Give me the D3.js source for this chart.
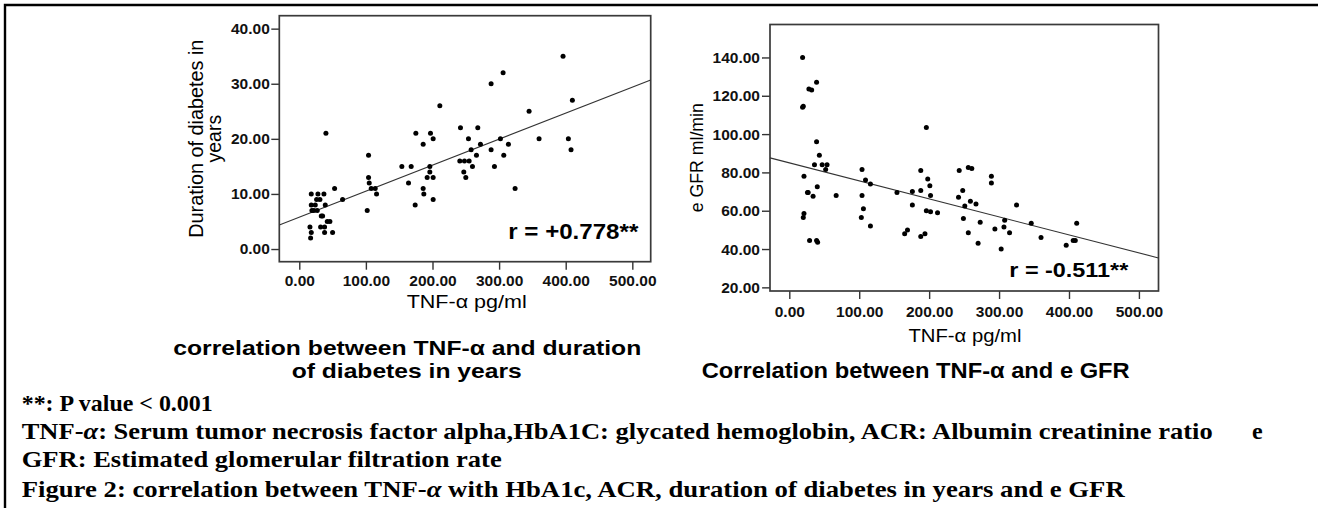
<!DOCTYPE html>
<html>
<head>
<meta charset="utf-8">
<script src="https://cdn.jsdelivr.net/npm/d3@7"></script>
<style>
  body { margin: 0; background: #fff; }
  svg { display: block; }
</style>
</head>
<body>
<div id="fig"></div>
<script>
// left plot: TNF-a (pg/ml) vs duration of diabetes (years)
const durTnf = [396, 306, 288, 410, 211, 345, 40, 175, 197, 201, 242, 268, 254, 302, 360, 404,
  408, 186, 272, 314, 258, 288, 266, 307, 104, 241, 248, 255, 154, 168, 196, 260, 293, 196, 247,
  192, 201, 250, 104, 105, 164, 108, 114, 186, 53, 324, 116, 187, 201, 65, 174, 102,
  18, 28, 37, 26, 31, 18, 24, 39, 19, 22, 27, 33, 35, 42, 46, 16, 32, 38, 18, 38, 50, 17];
const durYears = [35, 32, 30, 27, 26, 25, 21, 21, 21, 20, 22, 22, 20, 20, 20, 20,
  18, 19, 19, 19, 18, 18, 17, 17, 17, 16, 16, 16, 15, 15, 15, 15, 15, 14, 14,
  13, 13, 13, 13, 12, 12, 11, 11, 11, 11, 11, 10, 10, 9, 9, 8, 7,
  10, 10, 10, 9, 9, 8, 8, 8, 7, 7, 7, 6, 6, 5, 5, 4, 4, 4, 3, 3, 3, 2];
const durFit = [5.78, 0.0472];   // intercept, slope of the drawn fit line
const durR = "r = +0.778**";

// right plot: TNF-a (pg/ml) vs eGFR (ml/min)
const gfrTnf = [19, 19, 20, 28, 32, 39, 39, 43, 36, 47, 54, 52, 40, 21, 26, 27, 34, 67, 21, 20,
  29, 39, 40.5, 104, 109, 116, 104, 106, 103, 116, 154, 176, 188, 188, 176, 165, 169, 188, 194,
  196, 198, 201, 202, 196, 202, 212, 243, 256, 261, 248, 242, 251, 259, 267, 249, 256, 273, 270,
  289, 289, 294, 303, 308, 307, 315, 325, 346, 360, 396, 406, 409, 411];
const gfrValues = [140, 114, 114.5, 123.5, 123, 127, 96, 89, 84, 84, 84, 81.5, 72.5, 78, 69.5, 69.5, 67.5, 68, 58.5, 56.5,
  44.5, 44.5, 43.5, 81.5, 76, 74, 68, 61, 56.5, 52, 69.5, 70, 81, 70.5, 63, 48, 50, 46.5, 48,
  103.5, 76.5, 73, 68, 60, 59.5, 59, 81, 82.5, 82, 70.5, 67, 62.5, 65, 63.5, 56, 48.5, 54, 43,
  78, 74.5, 50.5, 40, 55, 51.5, 48.5, 63, 53.5, 46, 42, 44.5, 44.5, 53.5];
const gfrFit = [85.0, -0.094];
const gfrR = "r = -0.511**";

const xTickVals = [0, 100, 200, 300, 400, 500];
const durTickVals = [0, 10, 20, 30, 40];
const gfrTickVals = [20, 40, 60, 80, 100, 120, 140];

const notes = [
  "**: P value < 0.001",
  "TNF-α: Serum tumor necrosis factor alpha,HbA1C: glycated hemoglobin, ACR: Albumin creatinine ratio",
  "GFR: Estimated glomerular filtration rate",
  "Figure 2: correlation between TNF-α with HbA1c, ACR, duration of diabetes in years and e GFR"
];

var W = 1318, H = 508;
var sans = "'Liberation Sans', Arial, sans-serif";
var serif = "'Liberation Serif', 'Times New Roman', serif";
var fmt = d3.format(".2f");

var svg = d3.select("#fig").append("svg").attr("width", W).attr("height", H);

// page border (top + left)
svg.append("path").attr("d", "M5," + H + "V5H" + W)
  .attr("fill", "none").attr("stroke", "#000").attr("stroke-width", 2.4);

function txt(str, x, y, o) {
  var t = svg.append("text").attr("x", x).attr("y", y)
    .attr("font-family", o.family || sans)
    .attr("font-size", o.size)
    .attr("font-weight", o.bold ? "bold" : "normal")
    .attr("text-anchor", o.anchor || "start")
    .attr("fill", "#000")
    .text(str);
  if (o.len) t.attr("textLength", o.len).attr("lengthAdjust", "spacingAndGlyphs");
  if (o.rot) t.attr("transform", "rotate(-90," + x + "," + y + ")");
  return t;
}

function panel(o) {
  var x = d3.scaleLinear().domain(o.xDom).range([o.left, o.right]);
  var y = d3.scaleLinear().domain(o.yDom).range([o.bottom, o.top]);
  var g = svg.append("g");

  var xa = g.append("g").attr("transform", "translate(0," + o.bottom + ")")
    .call(d3.axisBottom(x).tickValues(xTickVals).tickFormat(fmt).tickSize(8).tickPadding(o.xPad).tickSizeOuter(0));
  var ya = g.append("g").attr("transform", "translate(" + o.left + ",0)")
    .call(d3.axisLeft(y).tickValues(o.yTicks).tickFormat(fmt).tickSize(8).tickPadding(o.yPad).tickSizeOuter(0));
  [xa, ya].forEach(function (a) {
    a.select(".domain").remove();
    a.selectAll("line").attr("stroke", "#333").attr("stroke-width", 1.4);
    a.selectAll("text").attr("font-family", sans).attr("font-size", 15.5)
      .attr("font-weight", "bold").attr("fill", "#111");
  });

  g.append("rect").attr("x", o.left).attr("y", o.top)
    .attr("width", o.right - o.left).attr("height", o.bottom - o.top)
    .attr("fill", "none").attr("stroke", "#3a3a3a").attr("stroke-width", 1.7);

  var x0 = o.xDom[0], x1 = o.xDom[1];
  g.append("line")
    .attr("x1", x(x0)).attr("y1", y(o.fit[0] + o.fit[1] * x0))
    .attr("x2", x(x1)).attr("y2", y(o.fit[0] + o.fit[1] * x1))
    .attr("stroke", "#333").attr("stroke-width", 1.1);

  g.selectAll("circle").data(o.xs).enter().append("circle")
    .attr("cx", function (d) { return x(d); })
    .attr("cy", function (d, i) { return y(o.ys[i]); })
    .attr("r", 2.5).attr("fill", "#000");
}

panel({ xs: durTnf, ys: durYears, fit: durFit, yTicks: durTickVals,
  xDom: [-30, 527.6], yDom: [-2.3, 42.35],
  left: 279.3, right: 650.7, top: 15.7, bottom: 261.7, xPad: 5, yPad: 1.5 });

panel({ xs: gfrTnf, ys: gfrValues, fit: gfrFit, yTicks: gfrTickVals,
  xDom: [-27.6, 528], yDom: [18.1, 157.2],
  left: 770, right: 1158.5, top: 24.5, bottom: 291, xPad: 6.5, yPad: 2 });

// left plot labels
txt("Duration of diabetes in", 203, 138.7, { size: 19.5, anchor: "middle", rot: true, len: 198 });
txt("years", 221, 138.7, { size: 19.5, anchor: "middle", rot: true });
txt("TNF-α  pg/ml", 466.7, 308, { size: 18.5, anchor: "middle", len: 120 });
txt(durR, 508.3, 239.3, { size: 22, bold: true, len: 130 });
txt("correlation between TNF-α and duration", 173.3, 354.5, { size: 21, bold: true, len: 468 });
txt("of diabetes in years", 406.7, 378, { size: 21, bold: true, anchor: "middle", len: 230 });

// right plot labels
txt("e GFR ml/min", 703.3, 157.7, { size: 17.5, anchor: "middle", rot: true, len: 109 });
txt("TNF-α pg/ml", 965, 342, { size: 18.5, anchor: "middle", len: 113 });
txt(gfrR, 1009.3, 276.7, { size: 21, bold: true, len: 119 });
txt("Correlation between TNF-α and e GFR", 701.7, 377.5, { size: 21.5, bold: true, len: 428 });

// footnotes
var noteY = [411, 439.3, 467.3, 496.7];
var noteLen = [191, 1191, 480, 1103];
notes.forEach(function (s, i) {
  var t = svg.append("text").attr("x", 21.7).attr("y", noteY[i])
    .attr("font-family", serif).attr("font-size", 24).attr("font-weight", "bold")
    .attr("textLength", noteLen[i]).attr("lengthAdjust", "spacingAndGlyphs");
  s.split("α").forEach(function (part, j) {
    if (j > 0) t.append("tspan").attr("font-style", "italic").text("α");
    t.append("tspan").text(part);
  });
});
txt("e", 1252, 439.3, { family: serif, size: 24, bold: true });
</script>
</body>
</html>
